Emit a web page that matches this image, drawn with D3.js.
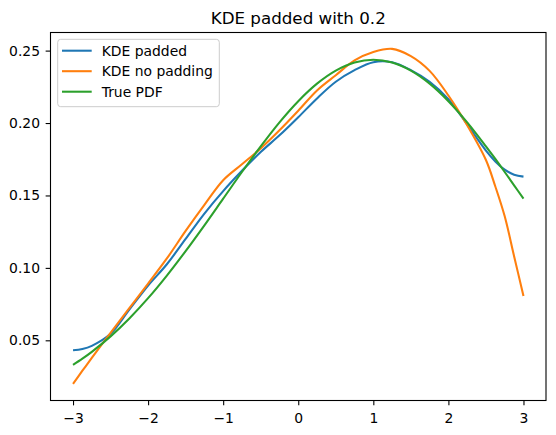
<!DOCTYPE html>
<html>
<head>
<meta charset="utf-8">
<script src="https://cdn.jsdelivr.net/npm/d3@7"></script>
<style>
  body { margin: 0; background: #fff; }
  text { font-family: "DejaVu Sans", sans-serif; fill: #000; }
</style>
</head>
<body>
<svg width="556" height="435"></svg>
<script>
// x grid of the curves (denser near the right edge)
var xs = [-3, -2.875, -2.75, -2.5, -2.25, -2, -1.75, -1.5, -1.25, -1, -0.75, -0.5, -0.25,
          0, 0.25, 0.5, 0.75, 1, 1.25, 1.5, 1.75, 2, 2.25, 2.5, 2.625, 2.75, 2.875, 3];

var kdePadded = [0.0431, 0.0440, 0.0462, 0.0545, 0.0712, 0.0878, 0.1025, 0.1200, 0.1375,
                 0.1530, 0.1670, 0.1800, 0.1915, 0.2040, 0.2170, 0.2285, 0.2365, 0.2420,
                 0.2420, 0.2365, 0.2285, 0.2165, 0.1990, 0.1810, 0.1735, 0.1678, 0.1643,
                 0.1630];

var kdeNoPadding = [0.0200, 0.0290, 0.0378, 0.0552, 0.0722, 0.0892, 0.1065, 0.1255, 0.1435,
                    0.1605, 0.1715, 0.1825, 0.1950, 0.2085, 0.2225, 0.2330, 0.2432, 0.2490,
                    0.2512, 0.2462, 0.2360, 0.2190, 0.1985, 0.1745, 0.1562, 0.1356, 0.1081,
                    0.0806];

var truePdf = [0.0330, 0.0373, 0.0420, 0.0527, 0.0651, 0.0791, 0.0947, 0.1116, 0.1294,
               0.1478, 0.1662, 0.1839, 0.2005, 0.2151, 0.2272, 0.2362, 0.2418, 0.2437,
               0.2418, 0.2362, 0.2272, 0.2151, 0.2005, 0.1839, 0.1752, 0.1662, 0.1570,
               0.1478];

var xTicks = [-3, -2, -1, 0, 1, 2, 3];
var yTicks = [0.05, 0.10, 0.15, 0.20, 0.25];
var labels = ["KDE padded", "KDE no padding", "True PDF"];
var colors = ["#1f77b4", "#ff7f0e", "#2ca02c"];
var title = "KDE padded with 0.2";

var svg = d3.select("svg"),
  x0 = 50.5, x1 = 546, y0 = 32.5, y1 = 400.5;

var x = d3.scaleLinear().domain([-3.3, 3.3]).range([x0, x1]);
var y = d3.scaleLinear().domain([0.00845, 0.2625]).range([y1, y0]);

var tick = 4.86;

// axes
svg.append("g")
   .attr("transform", "translate(0," + y1 + ")")
   .call(d3.axisBottom(x).tickValues(xTicks).tickSize(tick).tickPadding(7.8).tickFormat(d3.format("d")))
   .call(function(g) { g.select(".domain").remove(); })
   .selectAll("text").style("font-size", "13.9px");

svg.append("g")
   .attr("transform", "translate(" + x0 + ",0)")
   .call(d3.axisLeft(y).tickValues(yTicks).tickSize(tick).tickPadding(5.6).tickFormat(d3.format(".2f")))
   .call(function(g) { g.select(".domain").remove(); })
   .selectAll("text").style("font-size", "13.9px");

svg.selectAll(".tick line").attr("stroke", "#000").attr("stroke-width", 1.1);
svg.selectAll(".tick text").attr("fill", "#000");

// curves
var line = d3.line()
  .x(function(d, i) { return x(xs[i]); })
  .y(function(d) { return y(d); })
  .curve(d3.curveCatmullRom.alpha(0.5));

[kdePadded, kdeNoPadding, truePdf].forEach(function(s, i) {
  svg.append("path")
     .datum(s)
     .attr("fill", "none")
     .attr("stroke", colors[i])
     .attr("stroke-width", 2.08)
     .attr("d", line);
});

// frame
svg.append("rect")
   .attr("x", x0).attr("y", y0)
   .attr("width", x1 - x0).attr("height", y1 - y0)
   .attr("fill", "none").attr("stroke", "#000").attr("stroke-width", 1.1);

// title
svg.append("text")
   .attr("x", (x0 + x1) / 2)
   .attr("y", 24.2)
   .attr("text-anchor", "middle")
   .style("font-size", "16.7px")
   .text(title);

// legend
var lg = svg.append("g");
lg.append("rect")
  .attr("x", 57.7).attr("y", 39.3)
  .attr("width", 161.6).attr("height", 67.4)
  .attr("rx", 3).attr("ry", 3)
  .attr("fill", "#fff").attr("fill-opacity", 0.8)
  .attr("stroke", "#ccc").attr("stroke-width", 1);

labels.forEach(function(t, i) {
  var yy = 50.7 + i * 20.5;
  lg.append("line")
    .attr("x1", 62).attr("x2", 91.7)
    .attr("y1", yy).attr("y2", yy)
    .attr("stroke", colors[i]).attr("stroke-width", 2.08);
  lg.append("text")
    .attr("x", 101.7).attr("y", yy)
    .attr("dy", "0.36em")
    .style("font-size", "13.9px")
    .text(t);
});
</script>
</body>
</html>
